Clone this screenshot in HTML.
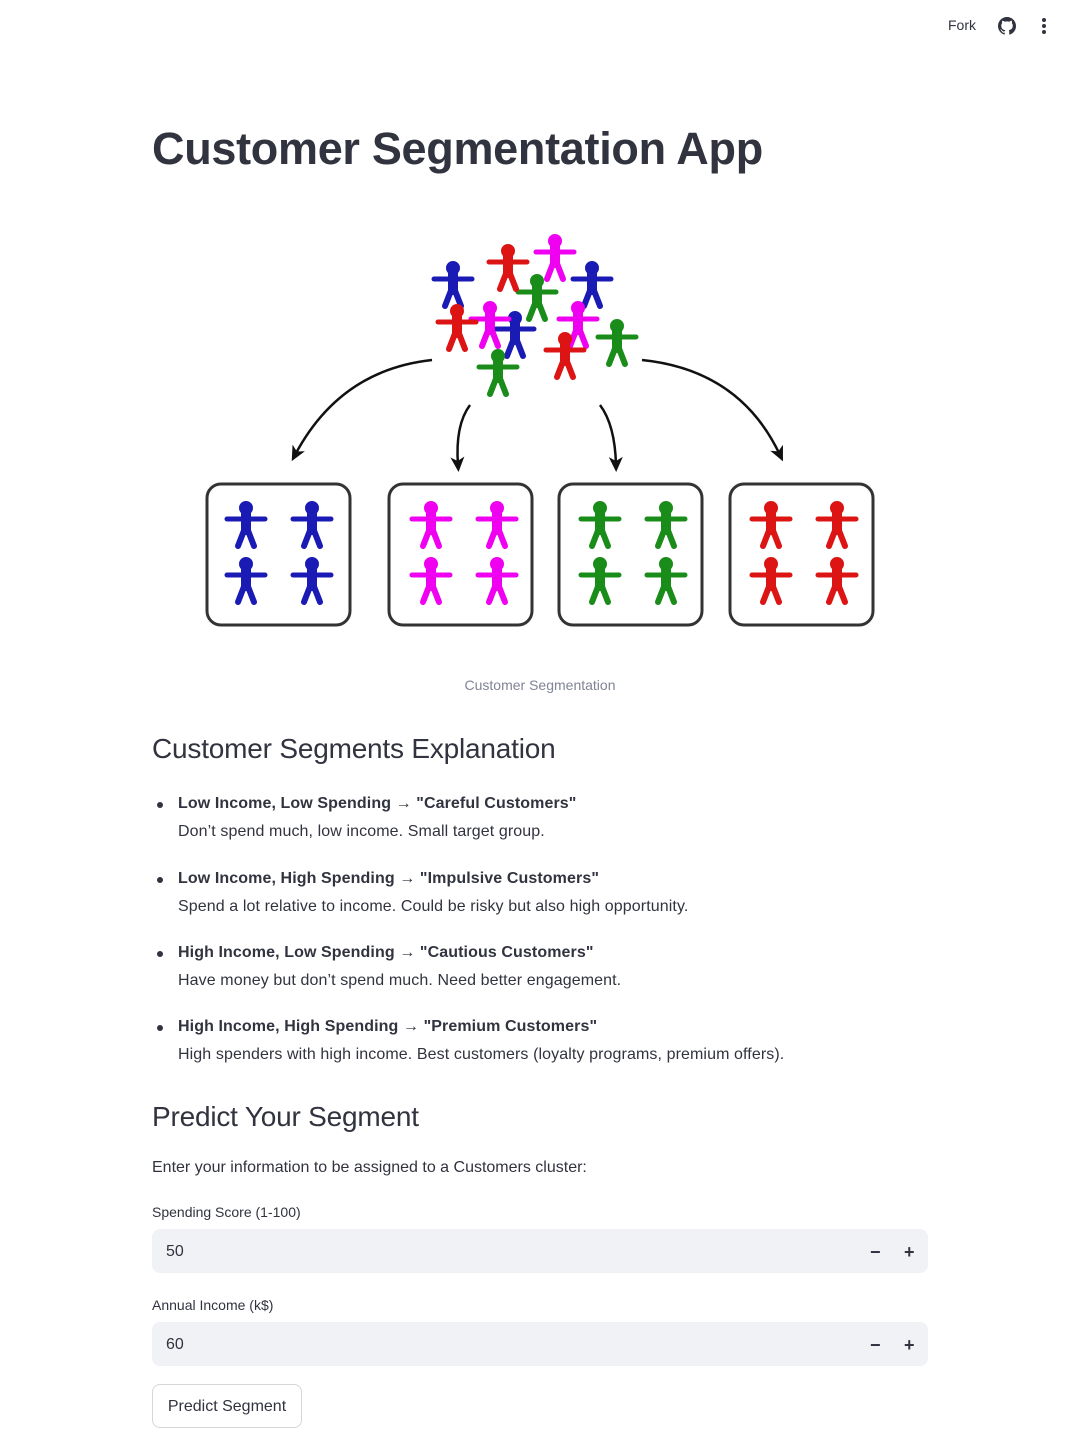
<!DOCTYPE html>
<html><head><meta charset="utf-8"><style>
*{margin:0;padding:0;box-sizing:border-box}
body{width:1080px;height:1444px;background:#fff;font-family:"Liberation Sans",sans-serif;color:#31333f;position:relative;overflow:hidden}
.a{position:absolute;white-space:nowrap}
h1{position:absolute;left:152px;top:123px;font-size:45px;font-weight:bold;letter-spacing:-0.3px;color:#31333f}
h2{position:absolute;left:152px;font-size:28px;font-weight:normal;color:#31333f;letter-spacing:-0.2px}
.li{position:absolute;left:178px;font-size:16px;line-height:28px;letter-spacing:0.1px}
.li b{font-weight:bold;color:#31333f}
.li:before{content:"";position:absolute;left:-21px;top:12px;width:6px;height:6px;border-radius:50%;background:#31333f}
.in{position:absolute;left:152px;width:776px;height:44px;background:#f0f2f6;border-radius:8px;font-size:16px;line-height:44px;padding-left:14px}
.in .m{position:absolute;right:0;top:0;width:70px;height:44px;font-weight:bold;font-size:18px}
</style></head><body>
<div class="a" style="left:948px;top:17px;font-size:14px">Fork</div>
<svg class="a" style="left:998px;top:17px" width="18" height="18" viewBox="0 0 16 16"><path fill="#31333f" d="M8 0C3.58 0 0 3.58 0 8c0 3.54 2.290 6.53 5.47 7.59.4.07.55-.17.55-.38v-1.330c-2.23.48-2.7-1.07-2.7-1.07-.36-.92-.89-1.17-.89-1.17-.73-.5.05-.49.05-.49.8.06 1.23.83 1.23.83.72 1.22 1.87.87 2.33.66.07-.52.28-.87.51-1.07-1.78-.2-3.64-.89-3.64-3.95 0-.87.31-1.59.82-2.15-.08-.2-.36-1.02.08-2.12 0 0 .67-.21 2.2.82a7.6 7.6 0 0 1 4 0c1.53-1.04 2.2-.82 2.2-.82.44 1.1.16 1.92.08 2.12.51.56.82 1.27.82 2.15 0 3.07-1.87 3.75-3.65 3.95.29.25.54.73.54 1.48v2.2c0 .21.15.46.55.38A8 8 0 0 0 16 8c0-4.420-3.58-8-8-8z"/></svg>
<div class="a" style="left:1042px;top:18px;width:4px;height:4px;border-radius:2px;background:#31333f;box-shadow:0 6px 0 #31333f,0 12px 0 #31333f"></div>

<h1>Customer Segmentation App</h1>

<svg class="a" style="left:0;top:0" width="1080" height="640">
<defs>
<g id="p" stroke-linecap="round">
<circle cx="20" cy="6" r="6.5"/>
<line x1="20" y1="10" x2="20" y2="28" stroke-width="10"/>
<line x1="1" y1="17" x2="39" y2="17" stroke-width="5"/>
<line x1="19" y1="26" x2="12" y2="44" stroke-width="6"/>
<line x1="21" y1="26" x2="28" y2="44" stroke-width="6"/>
</g>
<marker id="ar" markerWidth="16" markerHeight="16" refX="8" refY="7" orient="auto" markerUnits="userSpaceOnUse"><path d="M0,0 L15,7 L0,14 L4,7z" fill="#111"/></marker>
</defs>
<g fill="none" stroke="#111" stroke-width="2.5" marker-end="url(#ar)">
<path d="M432 360 Q340 370 295 455"/>
<path d="M470 405 Q455 425 458 465"/>
<path d="M600 405 Q615 425 616 465"/>
<path d="M642 360 Q740 370 780 455"/>
</g>
<g fill="none" stroke="#333" stroke-width="3">
<rect x="207" y="484" width="143" height="141" rx="14"/>
<rect x="389" y="484" width="143" height="141" rx="14"/>
<rect x="559" y="484" width="143" height="141" rx="14"/>
<rect x="730" y="484" width="143" height="141" rx="14"/>
</g>
<g fill="#1a1ab4" stroke="#1a1ab4">
<use href="#p" x="226" y="502"/><use href="#p" x="292" y="502"/><use href="#p" x="226" y="558"/><use href="#p" x="292" y="558"/>
<use href="#p" x="433" y="262"/><use href="#p" x="572" y="262"/><use href="#p" x="495" y="312"/></g>
<g fill="#f000f0" stroke="#f000f0">
<use href="#p" x="411" y="502"/><use href="#p" x="477" y="502"/><use href="#p" x="411" y="558"/><use href="#p" x="477" y="558"/>
<use href="#p" x="535" y="235"/><use href="#p" x="470" y="302"/><use href="#p" x="558" y="302"/></g>
<g fill="#1a8c1a" stroke="#1a8c1a">
<use href="#p" x="580" y="502"/><use href="#p" x="646" y="502"/><use href="#p" x="580" y="558"/><use href="#p" x="646" y="558"/>
<use href="#p" x="517" y="275"/><use href="#p" x="597" y="320"/><use href="#p" x="478" y="350"/></g>
<g fill="#dc1414" stroke="#dc1414">
<use href="#p" x="751" y="502"/><use href="#p" x="817" y="502"/><use href="#p" x="751" y="558"/><use href="#p" x="817" y="558"/>
<use href="#p" x="488" y="245"/><use href="#p" x="437" y="305"/><use href="#p" x="545" y="333"/></g>
</svg>
<div class="a" style="left:0;width:1080px;text-align:center;top:677px;font-size:14px;color:#808495">Customer Segmentation</div>

<h2 style="top:733px">Customer Segments Explanation</h2>
<div class="li" style="top:790px"><b>Low Income, Low Spending → "Careful Customers"</b><br>Don’t spend much, low income. Small target group.</div>
<div class="li" style="top:865px"><b>Low Income, High Spending → "Impulsive Customers"</b><br>Spend a lot relative to income. Could be risky but also high opportunity.</div>
<div class="li" style="top:939px"><b>High Income, Low Spending → "Cautious Customers"</b><br>Have money but don’t spend much. Need better engagement.</div>
<div class="li" style="top:1013px"><b>High Income, High Spending → "Premium Customers"</b><br>High spenders with high income. Best customers (loyalty programs, premium offers).</div>

<h2 style="top:1101px">Predict Your Segment</h2>
<div class="a" style="left:152px;top:1159px;font-size:16px">Enter your information to be assigned to a Customers cluster:</div>
<div class="a" style="left:152px;top:1204px;font-size:14px">Spending Score (1-100)</div>
<div class="in" style="top:1229px;line-height:46px">50<div class="m"><span class="a" style="left:12px">−</span><span class="a" style="left:46px">+</span></div></div>
<div class="a" style="left:152px;top:1297px;font-size:14px">Annual Income (k$)</div>
<div class="in" style="top:1322px;line-height:46px">60<div class="m"><span class="a" style="left:12px">−</span><span class="a" style="left:46px">+</span></div></div>
<div class="a" style="left:152px;top:1384px;width:150px;height:44px;border:1px solid #d6d6d9;border-radius:8px;font-size:16px;line-height:44px;text-align:center">Predict Segment</div>
</body></html>
